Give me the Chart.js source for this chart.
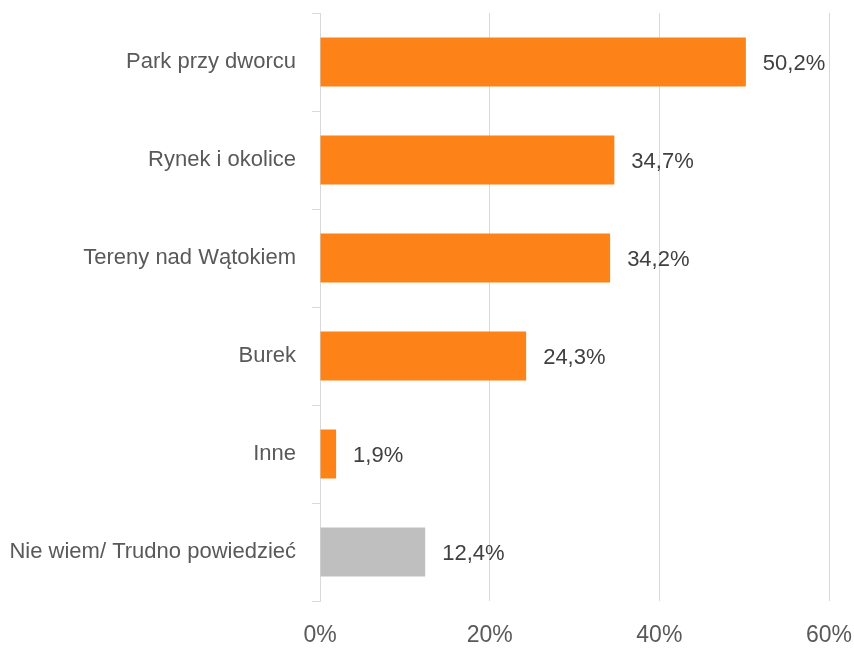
<!DOCTYPE html>
<html>
<head>
<meta charset="utf-8">
<script src="https://cdn.jsdelivr.net/npm/chart.js@4"></script>
<style>
html,body{margin:0;padding:0;background:#fff;}
#wrap{width:854px;height:648px;}
</style>
</head>
<body>
<div id="wrap"><canvas id="c" width="854" height="648"></canvas></div>
<script>
const categories = ["Park przy dworcu","Rynek i okolice","Tereny nad Wątokiem","Burek","Inne","Nie wiem/ Trudno powiedzieć"];
const values = [50.2, 34.7, 34.2, 24.3, 1.9, 12.4];
const barColors = ["#FD8218","#FD8218","#FD8218","#FD8218","#FD8218","#BFBFBF"];
const xTicks = [0, 20, 40, 60];

const FONT = "'Liberation Sans Narrow','Arial Narrow','Liberation Sans',sans-serif";
const TEXT = "#595959";

const valueLabels = {
  id: 'valueLabels',
  afterDatasetsDraw(chart) {
    const ctx = chart.ctx;
    const meta = chart.getDatasetMeta(0);
    ctx.save();
    ctx.font = "22px " + FONT;
    ctx.fillStyle = "#404040";
    ctx.textAlign = "left";
    ctx.textBaseline = "middle";
    meta.data.forEach((bar, i) => {
      const txt = values[i].toFixed(1).replace('.', ',') + '%';
      ctx.fillText(txt, bar.x + 17, bar.y + 2);
    });
    ctx.restore();
  }
};

new Chart(document.getElementById('c'), {
  type: 'bar',
  data: {
    labels: categories,
    datasets: [{
      data: values,
      backgroundColor: barColors,
      borderWidth: 0,
      categoryPercentage: 1.0,
      barPercentage: 0.5
    }]
  },
  options: {
    indexAxis: 'y',
    responsive: false,
    animation: false,
    devicePixelRatio: 1,
    layout: { padding: { top: 13, right: 25, left: 0, bottom: 0 } },
    plugins: { legend: { display: false }, tooltip: { enabled: false } },
    scales: {
      x: {
        min: 0, max: 60,
        afterBuildTicks(axis) { axis.ticks = xTicks.map(v => ({ value: v })); },
        afterFit(axis) { axis.height = 47; axis.paddingLeft = 0; axis.paddingRight = 0; },
        grid: { color: "#D9D9D9", lineWidth: 1, drawTicks: false },
        border: { display: false },
        ticks: {
          padding: 21,
          color: TEXT,
          font: { family: FONT, size: 23 },
          callback: v => v + '%'
        }
      },
      y: {
        afterFit(axis) { axis.width = 320; axis.paddingTop = 0; axis.paddingBottom = 0; },
        grid: { offset: true, drawOnChartArea: false, drawTicks: true, tickLength: 8, color: "#D9D9D9" },
        border: { display: true, color: "#D9D9D9", width: 1 },
        ticks: {
          padding: 16,
          color: TEXT,
          font: { family: FONT, size: 22 }
        }
      }
    }
  },
  plugins: [valueLabels]
});
</script>
</body>
</html>
